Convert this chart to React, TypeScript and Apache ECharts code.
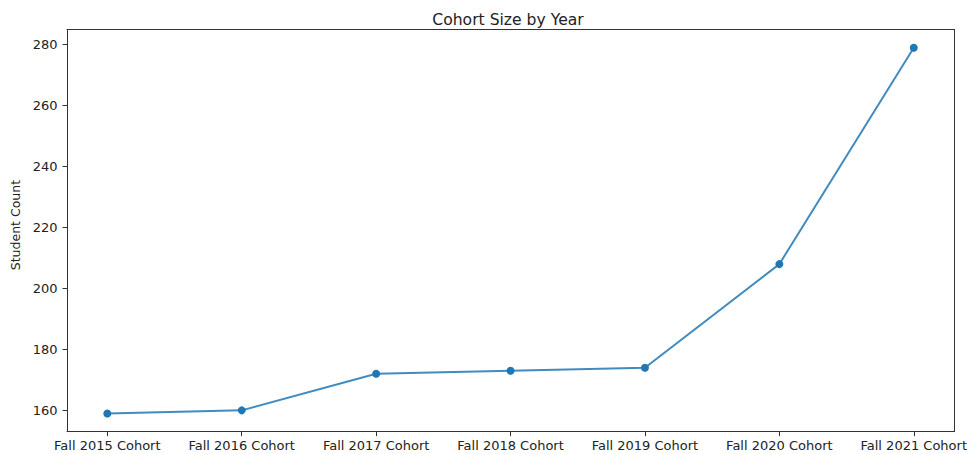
import React, { useEffect, useRef } from "react";
import * as echarts from "echarts";

const categories = [
  "Fall 2015 Cohort",
  "Fall 2016 Cohort",
  "Fall 2017 Cohort",
  "Fall 2018 Cohort",
  "Fall 2019 Cohort",
  "Fall 2020 Cohort",
  "Fall 2021 Cohort",
];
const studentCounts = [159, 160, 172, 173, 174, 208, 279];
const yTicks = [160, 180, 200, 220, 240, 260, 280];
const xTicks = categories.map((_, i) => i);

const FONT = "'DejaVu Sans', sans-serif";
const TEXT = "#222";
const AXIS = "#333";

export default function App() {
  const ref = useRef<HTMLDivElement>(null);
  useEffect(() => {
    if (!ref.current) return;
    const chart = echarts.init(ref.current, undefined, { renderer: "svg" });
    const xBase = {
      type: "value" as const,
      min: -0.3,
      max: 6.3,
      splitLine: { show: false },
      axisLine: { show: true, onZero: false, lineStyle: { color: AXIS, width: 1 } },
    };
    const yBase = {
      type: "value" as const,
      min: 153,
      max: 285,
      splitLine: { show: false },
      axisLine: { show: true, onZero: false, lineStyle: { color: AXIS, width: 1 } },
    };
    chart.setOption({
      animation: false,
      backgroundColor: "#fff",
      title: {
        text: "Cohort Size by Year",
        left: 503,
        top: 7,
        textAlign: "center",
        textStyle: { fontFamily: FONT, fontSize: 15.6, fontWeight: "normal", color: TEXT },
      },
      grid: { left: 67, top: 29.5, right: 13.5, bottom: 22.3 },
      xAxis: [
        {
          ...xBase,
          position: "bottom",
          axisTick: { show: true, length: 4.5, customValues: xTicks, lineStyle: { color: AXIS } },
          axisLabel: {
            customValues: xTicks,
            formatter: (v: number) => categories[Math.round(v)] ?? "",
            fontFamily: FONT,
            fontSize: 13,
            color: TEXT,
            margin: 7,
          },
        },
        {
          ...xBase,
          position: "top",
          axisTick: { show: false },
          axisLabel: { show: false },
        },
      ],
      yAxis: [
        {
          ...yBase,
          position: "left",
          name: "Student Count",
          nameLocation: "middle",
          nameGap: 43,
          nameTextStyle: {
            fontFamily: FONT,
            fontSize: 12.5,
            color: TEXT,
            padding: [0, 0, 0, 11],
          },
          axisTick: { show: true, length: 4.5, customValues: yTicks, lineStyle: { color: AXIS } },
          axisLabel: {
            customValues: yTicks,
            fontFamily: FONT,
            fontSize: 13,
            color: TEXT,
            margin: 9.5,
          },
        },
        {
          ...yBase,
          position: "right",
          axisTick: { show: false },
          axisLabel: { show: false },
        },
      ],
      series: [
        {
          type: "line",
          data: studentCounts.map((v, i) => [i, v]),
          xAxisIndex: 0,
          yAxisIndex: 0,
          symbol: "circle",
          symbolSize: 8,
          showSymbol: true,
          itemStyle: { color: "#1f77b4" },
          lineStyle: { color: "rgba(31,119,180,0.85)", width: 2 },
          emphasis: { disabled: true },
        },
      ],
    });
    return () => chart.dispose();
  }, []);
  return (
    <div
      ref={ref}
      style={{ position: "fixed", left: 0, top: 0, width: 970, height: 454, background: "#fff" }}
    />
  );
}
